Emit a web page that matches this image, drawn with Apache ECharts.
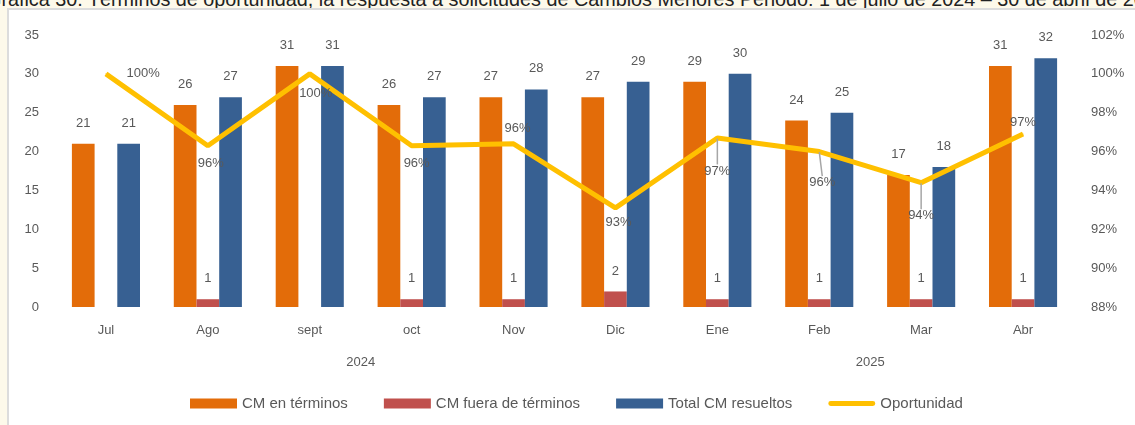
<!DOCTYPE html>
<html>
<head>
<meta charset="utf-8">
<script src="https://cdn.jsdelivr.net/npm/echarts@6/dist/echarts.min.js"></script>
<style>
html,body{margin:0;padding:0;background:#fdf9ea;width:1135px;height:425px;overflow:hidden;}
#titulo{position:absolute;left:-14px;top:-12px;white-space:nowrap;font-family:"Liberation Sans",Arial,sans-serif;font-size:19.8px;color:#222;}
#chart{position:absolute;left:7px;top:8px;width:1126px;height:415px;background:#fff;border-left:2px solid #dcdcdc;border-top:2px solid #dcdcdc;}
</style>
</head>
<body>
<div id="titulo">Gráfica 30. Términos de oportunidad, la respuesta a solicitudes de Cambios Menores Periodo: 1 de julio de 2024 – 30 de abril de 2025</div>
<div id="chart"></div>
<script>
var meses = ['Jul','Ago','sept','oct','Nov','Dic','Ene','Feb','Mar','Abr'];
var enTerminos = [21,26,31,26,27,27,29,24,17,31];
var fueraTerminos = [null,1,null,1,1,2,1,1,1,1];
var totalResueltos = [21,27,31,27,28,29,30,25,18,32];
var oportunidad = [1.00,0.963,1.00,0.963,0.964,0.931,0.967,0.960,0.944,0.969];
var anios = ['2024','2025'];

// where each % label sits (Excel placed them by hand)
var posLabel = ['right','bottom','bottom','bottom','top','bottom','bottom','bottom','bottom','top'];
var offLabel = [[14,0],[3,5],[6,7],[5,5],[4,-2],[3,2],[0,20],[3,18],[0,20],[0,1]];
var conGuia = [6,7,8];

var fuente = '"Liberation Sans", Arial, sans-serif';
var gris = '#595959';

var datosLinea = [];
for (var i = 0; i < oportunidad.length; i++) {
	datosLinea.push({
		value: oportunidad[i],
		label: {position: posLabel[i]},
		labelLine: {show: conGuia.indexOf(i) >= 0}
	});
}

function barra(nombre, datos, color) {
	return {
		name: nombre,
		type: 'bar',
		barWidth: 22.7,
		barGap: '0%',
		data: datos,
		itemStyle: {color: color},
		label: {show: true, position: 'top', distance: 14, color: gris, fontSize: 13, fontFamily: fuente}
	};
}

var myChart = echarts.init(document.getElementById('chart'));
myChart.setOption({
	animation: false,
	textStyle: {fontFamily: fuente},
	grid: {left: 46, right: 61, top: 25, bottom: 118},
	legend: {
		left: 176,
		top: 381,
		itemWidth: 47,
		itemHeight: 10,
		itemGap: 36,
		textStyle: {color: gris, fontSize: 15, fontFamily: fuente},
		data: [
			{name: 'CM en términos', icon: 'rect'},
			{name: 'CM fuera de términos', icon: 'rect'},
			{name: 'Total CM resueltos', icon: 'rect'},
			{name: 'Oportunidad', icon: 'path://M2,0 H45 A2,2 0 0 1 45,5 H2 A2,2 0 0 1 2,0 Z'}
		]
	},
	xAxis: [
		{
			type: 'category',
			data: meses,
			axisLine: {show: false},
			axisTick: {show: false},
			axisLabel: {color: gris, fontSize: 13, margin: 17}
		},
		{
			type: 'value',
			position: 'bottom',
			min: -0.5,
			max: 9.5,
			interval: 0.5,
			axisLine: {show: false},
			axisTick: {show: false},
			splitLine: {show: false},
			axisLabel: {
				color: gris, fontSize: 13, margin: 49,
				showMinLabel: true, showMaxLabel: true,
				formatter: function(v){
					if (v === 2.5) return anios[0];
					if (v === 7.5) return anios[1];
					return '';
				}
			}
		}
	],
	yAxis: [
		{
			type: 'value',
			min: 0,
			max: 35,
			interval: 5,
			splitLine: {show: false},
			axisLine: {show: false},
			axisTick: {show: false},
			axisLabel: {color: gris, fontSize: 13, margin: 16}
		},
		{
			type: 'value',
			min: 0.88,
			max: 1.02,
			interval: 0.02,
			splitLine: {show: false},
			axisLine: {show: false},
			axisTick: {show: false},
			axisLabel: {
				color: gris, fontSize: 13, margin: 17,
				formatter: function(v){ return Math.round(v*100) + '%'; }
			}
		}
	],
	series: [
		barra('CM en términos', enTerminos, '#e36c09'),
		barra('CM fuera de términos', fueraTerminos, '#c0504d'),
		barra('Total CM resueltos', totalResueltos, '#376092'),
		{
			name: 'Oportunidad',
			type: 'line',
			yAxisIndex: 1,
			zlevel: 1,
			z: 5,
			symbol: 'circle',
			symbolSize: 1,
			data: datosLinea,
			lineStyle: {color: '#ffc000', width: 5},
			itemStyle: {color: '#ffc000'},
			label: {
				show: true, color: gris, fontSize: 13, fontFamily: fuente, distance: 6,
				formatter: function(p){ return Math.round(p.value*100) + '%'; }
			},
			labelLine: {lineStyle: {color: '#a6a6a6', width: 1.5}},
			labelLayout: function(p){
				var o = offLabel[p.dataIndex];
				return {dx: o[0], dy: o[1]};
			}
		}
	]
});
</script>
</body>
</html>
